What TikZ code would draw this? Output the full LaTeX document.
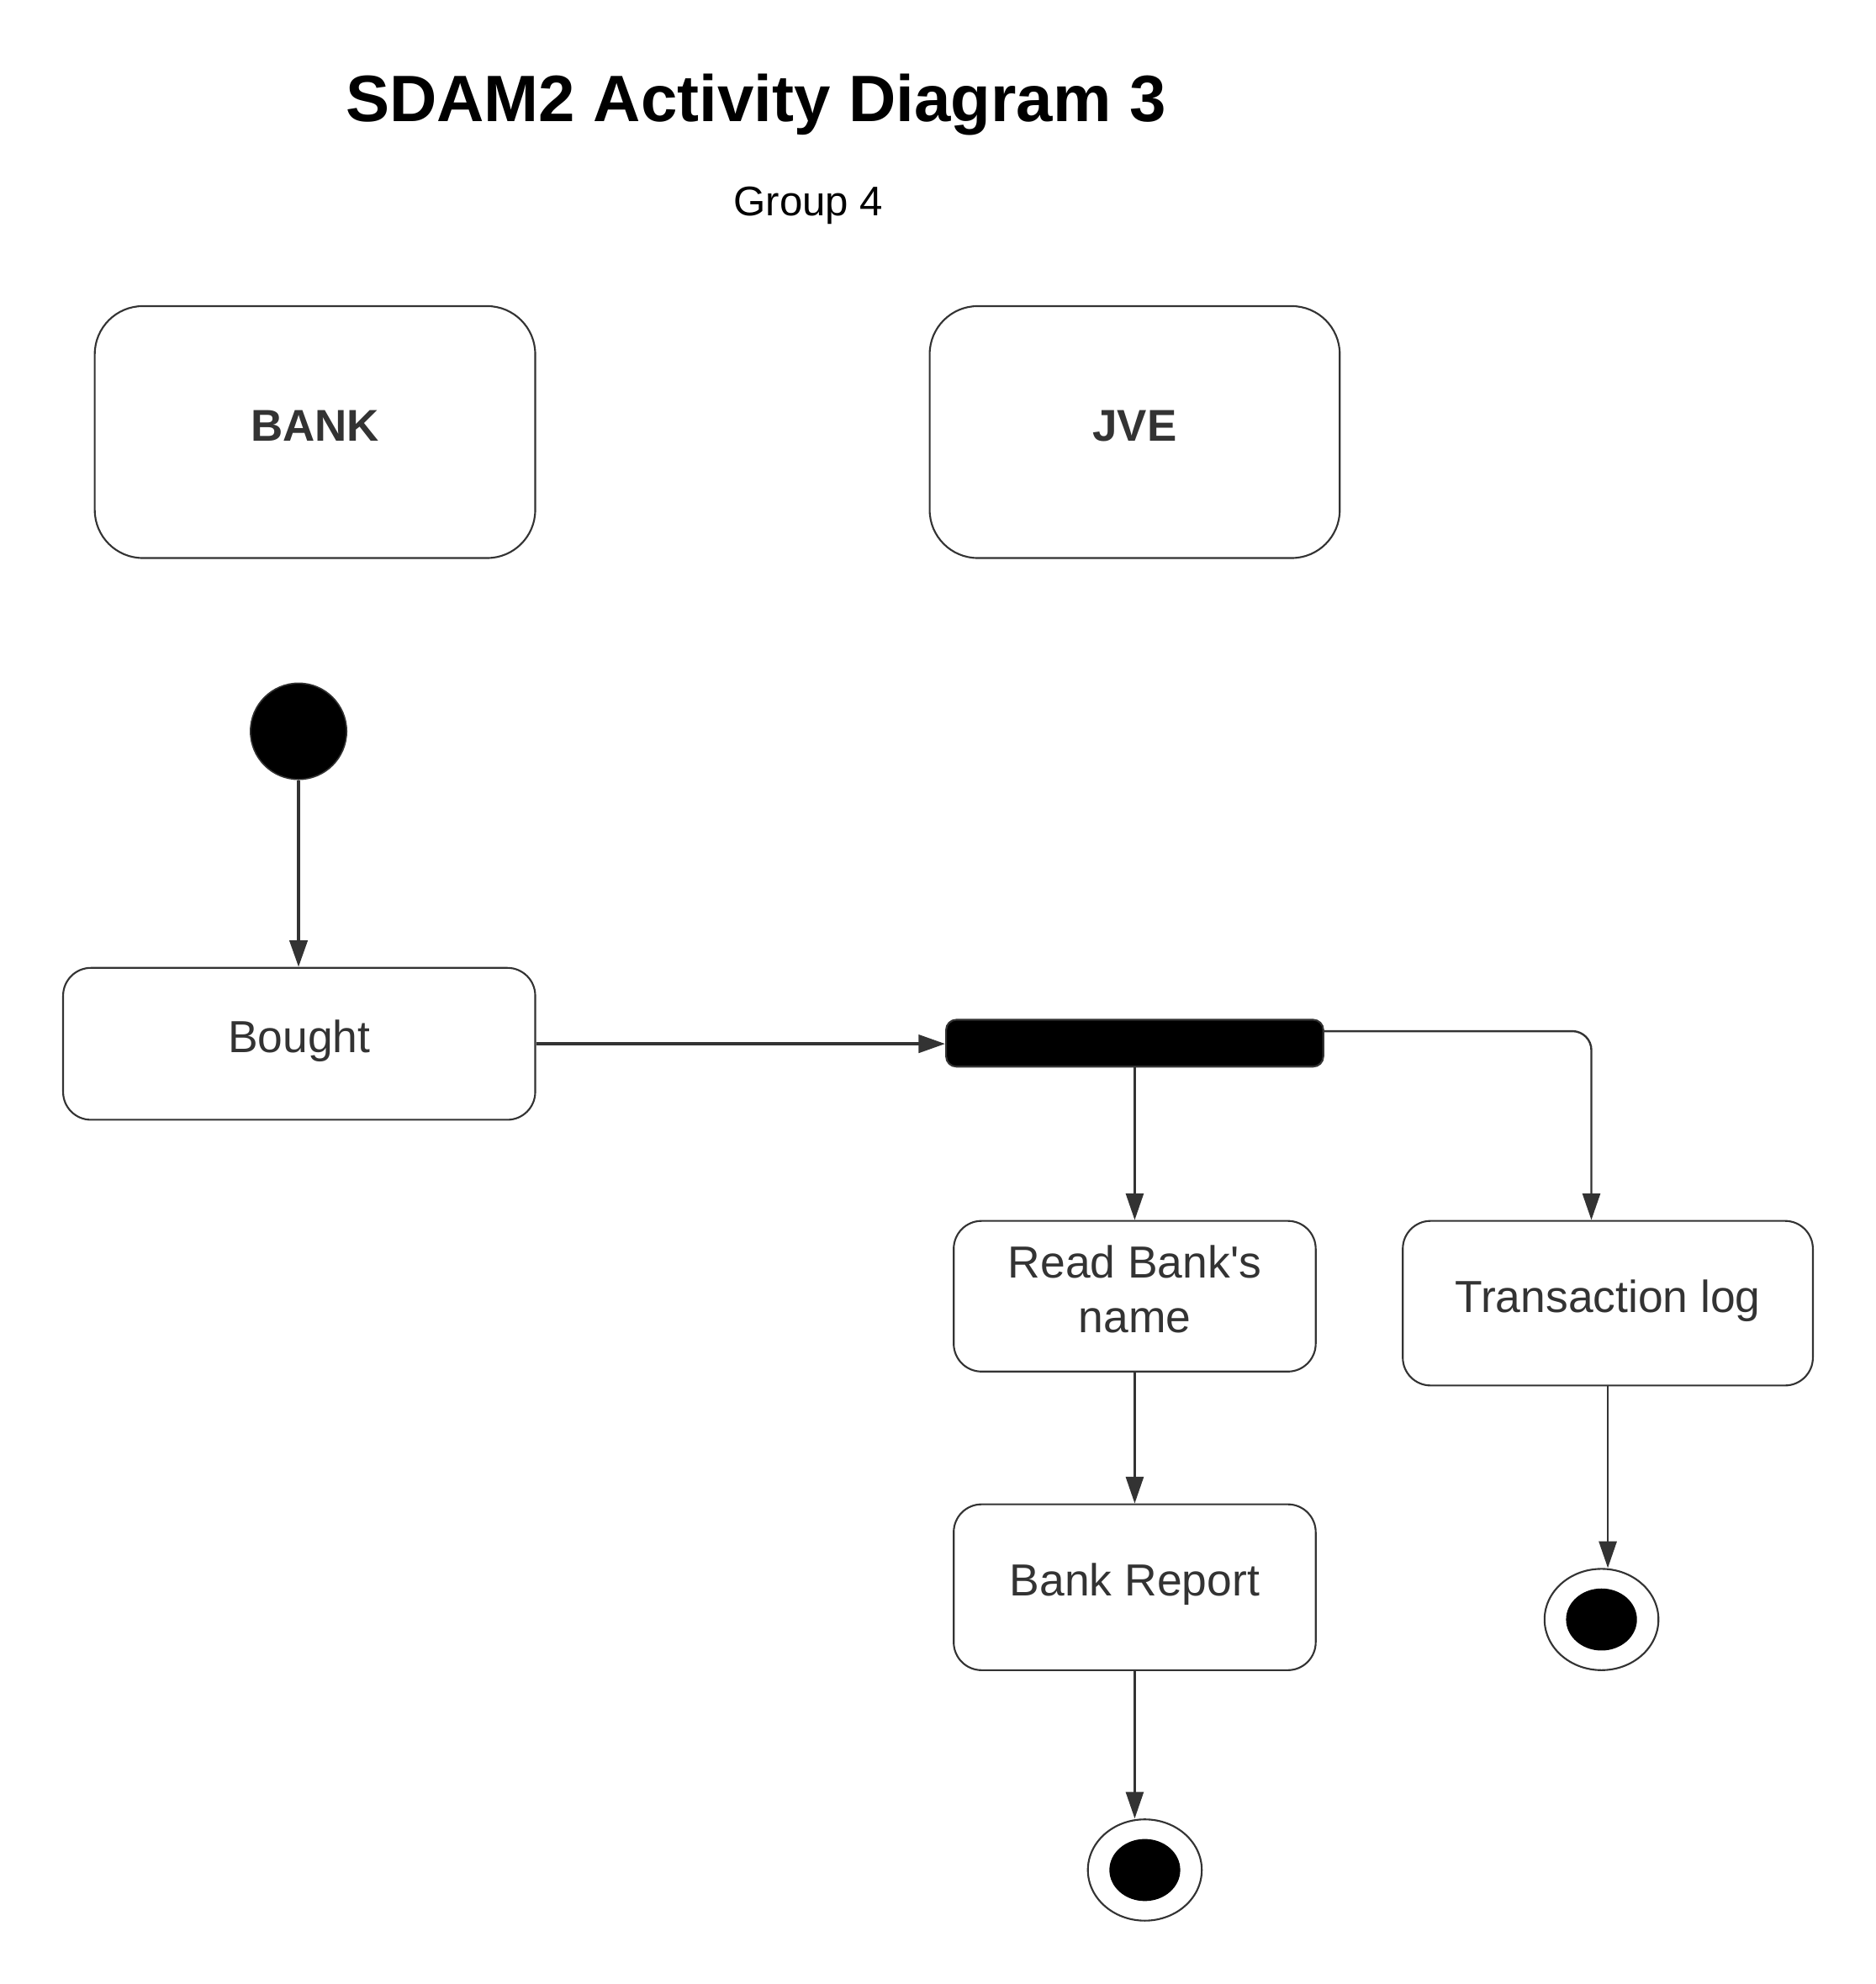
\documentclass[tikz,border=0pt]{standalone}
\usepackage{fontspec}
\setmainfont{Liberation Sans}
\newfontfamily\labelfont{Liberation Sans}
\usetikzlibrary{arrows.meta,shapes.geometric}
\definecolor{ink}{HTML}{333333}
\tikzset{
  lane/.style={draw=ink,line width=0.4pt,rounded corners=0.38cm,minimum height=1.99cm,
    text=ink,font=\labelfont\fontsize{10}{12}\selectfont\bfseries,text height=0.26cm,text depth=0.12cm},
  activity/.style={draw=ink,line width=0.4pt,rounded corners=0.22cm,text=ink,
    font=\labelfont\fontsize{10.1}{12.2}\selectfont,align=center,text height=0.26cm,text depth=0.12cm},
  startdot/.style={circle,draw=ink,line width=0.3pt,fill=black,minimum size=0.76cm},
  forkbar/.style={draw=ink,line width=0.4pt,fill=black,rounded corners=0.08cm,
    minimum width=2.98cm,minimum height=0.37cm},
  enddot/.style={ellipse,draw=ink,line width=0.4pt,minimum width=0.9cm,minimum height=0.8cm},
  flow/.style={draw=ink,line width=0.45pt},
  flowthick/.style={draw=ink,line width=0.75pt}
}
\begin{document}
\begin{tikzpicture}
    [x=0.01cm,y=-0.01cm,inner sep=0pt,>={Triangle[length=2.1mm,width=1.4mm]}]
    \useasboundingbox (0,0) rectangle (1483,1568.1);
    \node (title) at (597.5, 96) [anchor=base,font=\fontsize{14.75}{17}\selectfont\bfseries] {SDAM2 Activity Diagram 3};
    \node (group) at (639, 170.5) [anchor=base,font=\fontsize{9.3}{11}\selectfont] {Group 4};
    \node (bank) at (249, 341.5) [lane,minimum width=3.48cm] {BANK};
    \node (jve) at (897, 341.5) [lane,minimum width=3.24cm] {JVE};
    \node (start) at (236, 578) [startdot] {};
    \node (bought) at (236.5, 825) [activity,minimum width=3.73cm,minimum height=1.2cm] {Bought};
    \node (fork) at (897, 824.5) [forkbar] {};
    \node (read) at (897, 1024.5) [activity,minimum width=2.86cm,minimum height=1.19cm,text height=0.69cm] {Read Bank's\\name};
    \node (tlog) at (1271, 1030) [activity,minimum width=3.24cm,minimum height=1.3cm] {Transaction log};
    \node (report) at (897, 1254.5) [activity,minimum width=2.86cm,minimum height=1.31cm] {Bank Report};
    \node (end1) at (905, 1478) [enddot] {};
    \node (end2) at (1266, 1280) [enddot] {};
    \fill (end1) ellipse [x radius=0.28cm,y radius=0.245cm];
    \fill (end2) ellipse [x radius=0.28cm,y radius=0.245cm];
    \draw [flowthick,->] (start) to (start |- bought.north);
    \draw [flowthick,->] (bought.east) to (bought.east -| fork.west);
    \draw [flow,->] (fork) to (read);
    \draw [flow,->,rounded corners=0.15cm] ([yshift=0.095cm]fork.east) -| ([xshift=-0.13cm]tlog.north);
    \draw [flow,->] (read) to (report);
    \draw [flow,->] (report.south) to (report.south |- end1.north);
    \draw [flow,->] (tlog.south) to (tlog.south |- end2.north);
  \end{tikzpicture}
\end{document}
